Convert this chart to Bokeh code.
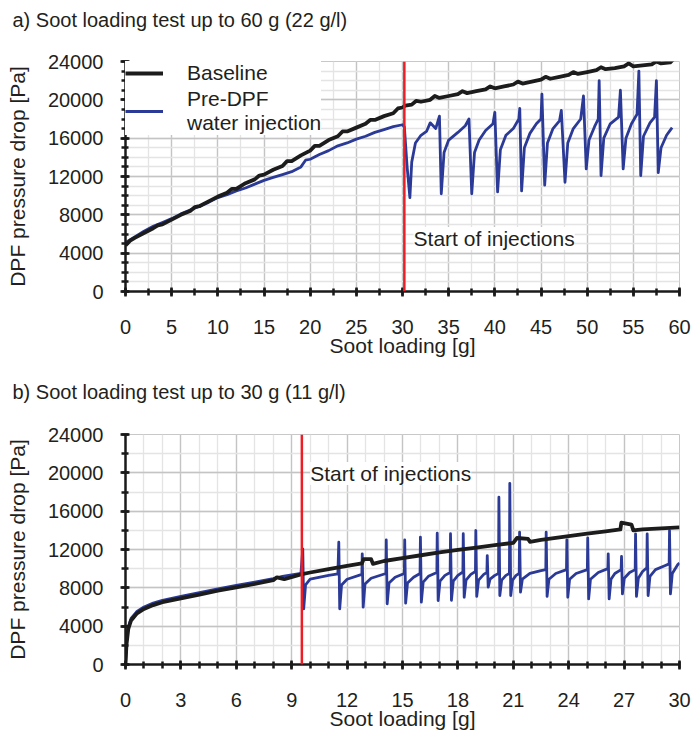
from bokeh.plotting import figure
from bokeh.models import (Range1d, SingleIntervalTicker, Span, Label, Legend, LegendItem,
                          Title)
from bokeh.layouts import column
from bokeh.embed import file_html
from bokeh.resources import INLINE

FONT = "Liberation Sans"

# ---------------- data: panel a (60 g test) ----------------
a_title = "a) Soot loading test up to 60 g (22 g/l)"
a_injection_start = 30.2
a_base_x = [0, 0.5, 1, 2, 3, 3.5, 4, 5, 6, 7, 7.5, 8, 9, 10, 11, 11.5, 12, 13, 14, 14.5,
            15, 16, 17, 17.5, 18, 19, 20, 20.5, 21, 22, 23, 23.5, 24, 25, 26, 26.5, 27, 28,
            29, 29.5, 30, 30.3, 31, 31.5, 32, 33, 33.5, 34, 35, 36, 36.5, 37, 38, 39, 39.5,
            40, 41, 42, 42.5, 43, 44, 45, 45.5, 46, 47, 48, 48.5, 49, 50, 51, 51.5, 52, 53,
            54, 54.5, 55, 56, 57, 57.5, 58, 59, 59.3]
a_base_y = [4800, 5300, 5600, 6100, 6600, 6900, 7000, 7500, 8000, 8400, 8800, 8900, 9400, 9900,
            10300, 10700, 10700, 11300, 11700, 12100, 12200, 12700, 13100, 13600, 13600, 14200,
            14700, 15200, 15200, 15800, 16200, 16700, 16700, 17100, 17500, 17900, 17900, 18300,
            18600, 19100, 19200, 19400, 19500, 19900, 19800, 20000, 20400, 20200, 20400, 20600,
            20900, 20700, 20900, 21100, 21400, 21200, 21400, 21600, 21900, 21700, 21900, 22100,
            22400, 22200, 22400, 22600, 22900, 22700, 22900, 23100, 23400, 23200, 23300, 23500,
            23800, 23500, 23600, 23700, 24000, 23800, 23900, 24200]
a_water_x = [0, 1, 2, 3, 4, 5, 6, 7, 8, 9, 10, 11, 12, 13, 14, 15, 16, 17, 18, 19, 19.5, 20,
             21, 22, 23, 24, 25, 26, 27, 28, 29, 30, 30.2,
             30.5, 30.8, 31.0, 31.4, 32, 32.6, 33, 33.6, 34.0, 34.2, 34.5, 35, 36, 36.8, 37.2,
             37.5, 37.8, 38.3, 39, 39.8, 40.0, 40.3, 40.6, 41.2, 42, 42.6, 42.7, 42.9, 43.2,
             43.8, 44.5, 45.0, 45.1, 45.4, 45.7, 46.3, 47.0, 47.2, 47.6, 47.9, 48.5, 49.3, 49.6,
             49.9, 50.2, 50.8, 51.2, 51.3, 51.5, 51.8, 52.5, 53.4, 53.6, 53.9, 54.2, 54.8, 55.4,
             55.6, 55.8, 56.1, 56.8, 57.3, 57.5, 57.7, 58.0, 58.6, 59.2]
a_water_y = [5100, 5700, 6300, 6800, 7200, 7600, 8100, 8500, 8900, 9300, 9800, 10100, 10500,
             10800, 11200, 11600, 11900, 12200, 12500, 13000, 13700, 13800, 14300, 14700, 15200,
             15500, 15900, 16200, 16600, 16900, 17200, 17400, 17200,
             13000, 9800, 13500, 15500, 16300, 16700, 17600, 17000, 18300, 10200, 14500, 15800,
             16600, 17300, 18000, 10200, 14500, 15800, 16800, 17500, 18700, 10400, 14800, 16300,
             17000, 18000, 19100, 10500, 15000, 16500, 17500, 18000, 20600, 11100, 15500, 17000,
             17800, 18900, 11400, 15500, 17000, 18000, 20400, 12800, 15800, 17200, 18000, 22000,
             12100, 16000, 17500, 18200, 21000, 12800, 16000, 17500, 18500, 23000, 12100, 16200,
             17600, 18200, 22000, 12400, 15000, 16300, 17100]

# ---------------- data: panel b (30 g test) ----------------
b_title = "b) Soot loading test up to 30 g (11 g/l)"
b_injection_start = 9.55
b_base_x = [0, 0.05, 0.15, 0.3, 0.6, 1.0, 1.5, 2, 3, 4, 5, 6, 7, 8, 8.2, 8.6, 9.5, 10, 11, 12,
            12.8, 12.9, 13.3, 13.4, 14, 15, 16, 17, 18, 19, 20, 21, 21.2, 21.8, 21.9, 22.5, 24,
            25, 26, 26.8, 26.85, 27.4, 27.5, 28, 29, 30]
b_base_y = [0, 2000, 3700, 4600, 5300, 5800, 6200, 6500, 6900, 7300, 7700, 8050, 8400, 8800,
            9100, 8900, 9400, 9600, 9950, 10300, 10550, 11000, 11000, 10500, 10800, 11100, 11400,
            11700, 11950, 12200, 12450, 12700, 13200, 13100, 12800, 13000, 13400, 13650, 13900,
            14100, 14800, 14600, 14000, 14100, 14200, 14300]
b_water_x = [0, 0.05, 0.15, 0.3, 0.6, 1.0, 1.5, 2, 3, 4, 5, 6, 7, 8, 8.5, 9, 9.5,
             9.6, 9.65, 9.75, 10.0, 11.0, 11.5, 11.55, 11.6, 11.7, 12.0, 12.8, 12.82, 12.87,
             12.97, 13.3, 14.1, 14.12, 14.17, 14.27, 14.6, 15.1, 15.12, 15.17, 15.27, 15.6,
             15.95, 15.97, 16.02, 16.12, 16.4, 16.86, 16.88, 16.93, 17.03, 17.3, 17.58, 17.6,
             17.65, 17.75, 18.0, 18.27, 18.29, 18.34, 18.44, 18.7, 18.95, 18.97, 19.02, 19.12,
             19.4, 19.57, 19.59, 19.64, 19.74, 20.0, 20.2, 20.22, 20.27, 20.37, 20.6, 20.79,
             20.81, 20.86, 20.96, 21.15, 21.32, 21.34, 21.39, 21.49, 21.9, 22.5, 22.76, 22.78,
             22.83, 22.93, 23.3, 23.88, 23.9, 23.95, 24.05, 24.4, 25.01, 25.03, 25.08, 25.18,
             25.6, 26.12, 26.14, 26.19, 26.29, 26.5, 26.84, 26.86, 26.91, 27.01, 27.3, 27.6,
             27.62, 27.67, 27.77, 28.0, 28.23, 28.25, 28.3, 28.4, 28.7, 29.2, 29.44, 29.46,
             29.51, 29.61, 29.9, 30.0]
b_water_y = [0, 2300, 3900, 4800, 5500, 6000, 6400, 6700, 7100, 7500, 7900, 8250, 8600, 8950,
             9200, 9350, 9500,
             12070, 5810, 8300, 8900, 9300, 9450, 12760, 5810, 8300, 8900, 9400, 11550, 5980,
             8400, 9000, 9500, 13000, 6330, 8500, 9100, 9500, 13000, 6400, 8500, 9100,
             9500, 13290, 6500, 8600, 9200, 9600, 13700, 6670, 8700, 9300, 9600, 13650,
             6700, 8700, 9300, 9650, 13650, 7020, 8800, 9400, 9700, 13980, 7100, 8800,
             9400, 9600, 11370, 8070, 8900, 9300, 9500, 17460, 7200, 8800, 9300, 9500,
             18900, 7200, 8800, 9300, 9500, 13800, 7550, 8900, 9500, 9800, 9900, 13800,
             7100, 8900, 9500, 9900, 13010, 7020, 8900, 9500, 9900, 13200, 6850, 8900,
             9600, 10000, 11550, 6850, 8900, 9500, 9900, 11270, 7370, 9000, 9600, 9900,
             13630, 7100, 9000, 9700, 10100, 13630, 7200, 9200, 9900, 10300, 10500, 13980,
             7370, 9500, 10400, 10600]

x_label = "Soot loading [g]"
y_label = "DPF pressure drop [Pa]"
series_names = ["Baseline", "Pre-DPF\nwater injection"]
annotation_text = "Start of injections"

BLACK = "#1c1c1c"
BLUE = "#2b3a97"
RED = "#ee1c25"
TXT = "#231f20"


def make_panel(title, xmax, xint, xminor, yminor, bx, by, wx, wy, inj, lab_xy, legend,
               height, top, bottom, xlab_standoff, xtitle_standoff, spacer_standoff):
    p = figure(width=693, height=height, x_range=Range1d(0, xmax), y_range=Range1d(0, 24000),
               output_backend="svg", toolbar_location=None,
               min_border_left=125, min_border_right=14, min_border_top=top,
               min_border_bottom=bottom, background_fill_color="white",
               border_fill_color="white", outline_line_color="#c8c8c8")
    # spacer between frame and the panel title (keeps the title near the top edge)
    p.add_layout(Title(text=" ", standoff=spacer_standoff, text_font=FONT,
                       text_font_size="20px"), "above")
    p.add_layout(Title(text=title, align="left", offset=-113, standoff=0,
                       text_font=FONT, text_font_size="20px",
                       text_font_style="normal", text_color=TXT), "above")

    p.xaxis.ticker = SingleIntervalTicker(interval=xint, num_minor_ticks=xminor)
    p.yaxis.ticker = SingleIntervalTicker(interval=4000, num_minor_ticks=yminor)
    for ax in (p.xaxis, p.yaxis):
        ax.axis_line_color = "#1a1a1a"
        ax.axis_line_width = 2.5
        ax.major_tick_line_color = "#1a1a1a"
        ax.major_tick_line_width = 2.5
        ax.minor_tick_line_color = "#1a1a1a"
        ax.minor_tick_line_width = 2.5
        ax.major_tick_in = 4
        ax.major_tick_out = 5
        ax.minor_tick_in = 3
        ax.minor_tick_out = 4
        ax.major_label_text_font = FONT
        ax.major_label_text_font_size = "20px"
        ax.major_label_text_color = TXT
        ax.axis_label_text_font = FONT
        ax.axis_label_text_font_size = "21px"
        ax.axis_label_text_font_style = "normal"
        ax.axis_label_text_color = TXT
    p.xaxis.axis_label = x_label
    p.yaxis.axis_label = y_label
    p.xaxis.major_label_standoff = xlab_standoff
    p.xaxis.axis_label_standoff = xtitle_standoff
    p.yaxis.major_label_standoff = 17
    p.yaxis.axis_label_standoff = 16

    p.xgrid.grid_line_color = "#c4c4c4"
    p.ygrid.grid_line_color = "#c4c4c4"
    p.xgrid.minor_grid_line_color = "#e4e4e4"
    p.ygrid.minor_grid_line_color = "#e4e4e4"
    for g in (p.xgrid, p.ygrid):
        g.grid_line_width = 1.3
        g.minor_grid_line_width = 1.3

    rw = p.line(wx, wy, line_color=BLUE, line_width=2.8, line_join="round")
    rb = p.line(bx, by, line_color=BLACK, line_width=3.8, line_join="round")
    p.add_layout(Span(location=inj, dimension="height", line_color=RED, line_width=2.5))
    p.add_layout(Label(x=lab_xy[0], y=lab_xy[1], text=annotation_text, text_baseline="middle",
                       text_font=FONT, text_font_size="21px", text_color=TXT,
                       background_fill_color="white", background_fill_alpha=1.0))
    if legend:
        lg = Legend(items=[LegendItem(label=series_names[0], renderers=[rb]),
                           LegendItem(label=series_names[1], renderers=[rw])],
                    location="top_left", label_text_font=FONT, label_text_font_size="21px",
                    label_text_color=TXT, glyph_width=38, label_standoff=24,
                    background_fill_color="white", background_fill_alpha=1.0,
                    border_line_color=None, margin=0, padding=7, spacing=2,
                    label_height=20)
        p.add_layout(lg, "center")
    return p


pa = make_panel(a_title, 60, 5, 2, 4, a_base_x, a_base_y, a_water_x, a_water_y,
                a_injection_start, (31.2, 5530), True, 369, 61, 78, 23, -3, 7)
pb = make_panel(b_title, 30, 3, 3, 2, b_base_x, b_base_y, b_water_x, b_water_y,
                b_injection_start, (10.0, 19930), False, 369, 65, 74, 23, -3, 8)

layout = column(pa, pb, spacing=0)
open("out.html", "w").write(file_html(layout, INLINE))
